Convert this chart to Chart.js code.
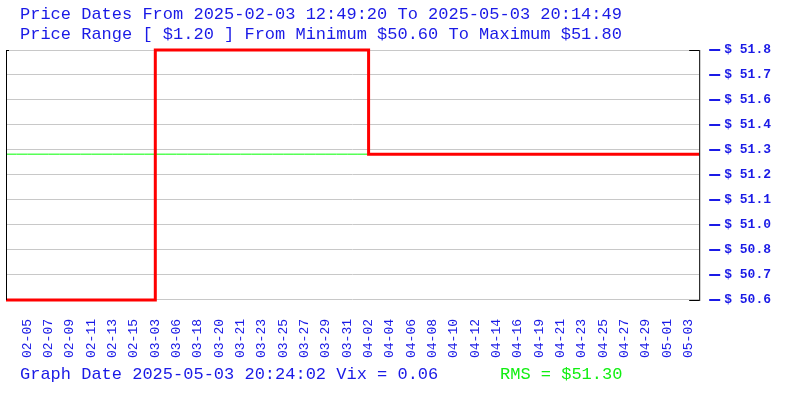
<!DOCTYPE html>
<html>
<head>
<meta charset="utf-8">
<script src="https://cdn.jsdelivr.net/npm/chart.js@4.4.0/dist/chart.umd.min.js"></script>
<style>
  body { margin: 0; background: #fff; overflow: hidden; }
  #wrap { position: relative; width: 800px; height: 400px; overflow: hidden; }
  #price-chart { position: absolute; left: -5px; top: 0; }
  .txt { position: absolute; font-family: "Liberation Mono", monospace; font-size: 17px; white-space: pre; color: #1a1ae6; }
</style>
</head>
<body>
<div id="wrap">
  <canvas id="price-chart" width="805" height="400"></canvas>
  <div class="txt" style="left:20px;top:5px">Price Dates From 2025-02-03 12:49:20 To 2025-05-03 20:14:49</div>
  <div class="txt" style="left:20px;top:25px">Price Range [ $1.20 ] From Minimum $50.60 To Maximum $51.80</div>
  <div class="txt" style="left:20px;top:365px">Graph Date 2025-05-03 20:24:02 Vix = 0.06</div>
  <div class="txt" style="left:500px;top:365px;color:#11ee11">RMS = $51.30</div>
</div>
<script>
// dates of the price points (every second one is shown on the axis)
var dates = ["02-03","02-04","02-05","02-06","02-07","02-08","02-09","02-10","02-11","02-12",
  "02-13","02-14","02-15","03-02","03-03","03-05","03-06","03-17","03-18","03-19",
  "03-20","03-21","03-21","03-22","03-23","03-24","03-25","03-26","03-27","03-28",
  "03-29","03-30","03-31","04-01","04-02","04-03","04-04","04-05","04-06","04-07",
  "04-08","04-09","04-10","04-11","04-12","04-13","04-14","04-15","04-16","04-18",
  "04-19","04-20","04-21","04-22","04-23","04-24","04-25","04-26","04-27","04-28",
  "04-29","04-30","05-01","05-02","05-03","05-03"];

var prices = [50.6,50.6,50.6,50.6,50.6,50.6,50.6,50.6,50.6,50.6,
  50.6,50.6,50.6,50.6,51.8,51.8,51.8,51.8,51.8,51.8,
  51.8,51.8,51.8,51.8,51.8,51.8,51.8,51.8,51.8,51.8,
  51.8,51.8,51.8,51.8,51.3,51.3,51.3,51.3,51.3,51.3,
  51.3,51.3,51.3,51.3,51.3,51.3,51.3,51.3,51.3,51.3,
  51.3,51.3,51.3,51.3,51.3,51.3,51.3,51.3,51.3,51.3,
  51.3,51.3,51.3,51.3,51.3,51.3];

var rms = [51.3,51.3,51.3,51.3,51.3,51.3,51.3,51.3,51.3,51.3,
  51.3,51.3,51.3,51.3,51.3,51.3,51.3,51.3,51.3,51.3,
  51.3,51.3,51.3,51.3,51.3,51.3,51.3,51.3,51.3,51.3,
  51.3,51.3,51.3,51.3,51.3,51.3,51.3,51.3,51.3,51.3,
  51.3,51.3,51.3,51.3,51.3,51.3,51.3,51.3,51.3,51.3,
  51.3,51.3,51.3,51.3,51.3,51.3,51.3,51.3,51.3,51.3,
  51.3,51.3,51.3,51.3,51.3,51.3];

var priceMin = 50.6;
var priceMax = 51.8;
var priceStep = 0.12;

var blue = "#1a1ae6";

// frame + blue dashes in front of the price labels
var framePlugin = {
  id: "frame",
  afterDraw: function(chart) {
    var a = chart.chartArea, ctx = chart.ctx, y = chart.scales.y;
    ctx.save();
    ctx.strokeStyle = "#000";
    ctx.lineWidth = 1;
    ctx.beginPath();
    ctx.moveTo(a.left + 0.5, a.top); ctx.lineTo(a.left + 0.5, a.bottom);
    ctx.moveTo(a.left, a.top + 0.5); ctx.lineTo(a.left + 3, a.top + 0.5);
    ctx.moveTo(a.right + 0.5, a.top); ctx.lineTo(a.right + 0.5, a.bottom + 1);
    ctx.moveTo(a.right - 10, a.top + 0.5); ctx.lineTo(a.right, a.top + 0.5);
    ctx.moveTo(a.right - 10, a.bottom + 0.5); ctx.lineTo(a.right, a.bottom + 0.5);
    ctx.stroke();
    ctx.strokeStyle = blue;
    ctx.lineWidth = 2;
    ctx.beginPath();
    y.ticks.forEach(function(t, i) {
      var py = Math.round(y.getPixelForTick(i));
      ctx.moveTo(a.right + 10, py); ctx.lineTo(a.right + 21, py);
    });
    ctx.stroke();
    ctx.restore();
  }
};

new Chart(document.getElementById("price-chart"), {
  type: "line",
  data: {
    labels: dates,
    datasets: [
      {
        label: "Price",
        data: prices,
        borderColor: "#ff0000",
        borderWidth: 3,
        stepped: true,
        pointRadius: 0,
        fill: false,
        clip: false,
        order: 0
      },
      {
        label: "RMS",
        data: rms,
        borderColor: "#00ff00",
        borderWidth: 1,
        pointRadius: 0,
        fill: false,
        order: 1
      }
    ]
  },
  options: {
    responsive: false,
    animation: false,
    layout: { padding: { left: -4, top: 50, right: 4, bottom: 31 } },
    plugins: {
      legend: { display: false },
      tooltip: { enabled: false }
    },
    scales: {
      x: {
        offset: false,
        grid: { display: false },
        border: { display: false },
        ticks: {
          autoSkip: false,
          minRotation: 90,
          maxRotation: 90,
          padding: 11,
          color: blue,
          font: { family: "Liberation Mono", size: 13 },
          callback: function(v, i) {
            return (i % 2 === 0 && i > 0 && i < dates.length - 1) ? this.getLabelForValue(v) : "";
          }
        }
      },
      y: {
        position: "right",
        min: priceMin,
        max: priceMax,
        grid: { color: "#c8c8c8", drawTicks: false },
        border: { display: false },
        ticks: {
          stepSize: priceStep,
          padding: 25,
          color: blue,
          font: { family: "Liberation Mono", size: 13, weight: "bold" },
          callback: function(v) { return "$ " + Number(v).toFixed(1); }
        }
      }
    }
  },
  plugins: [framePlugin]
});
</script>
</body>
</html>
